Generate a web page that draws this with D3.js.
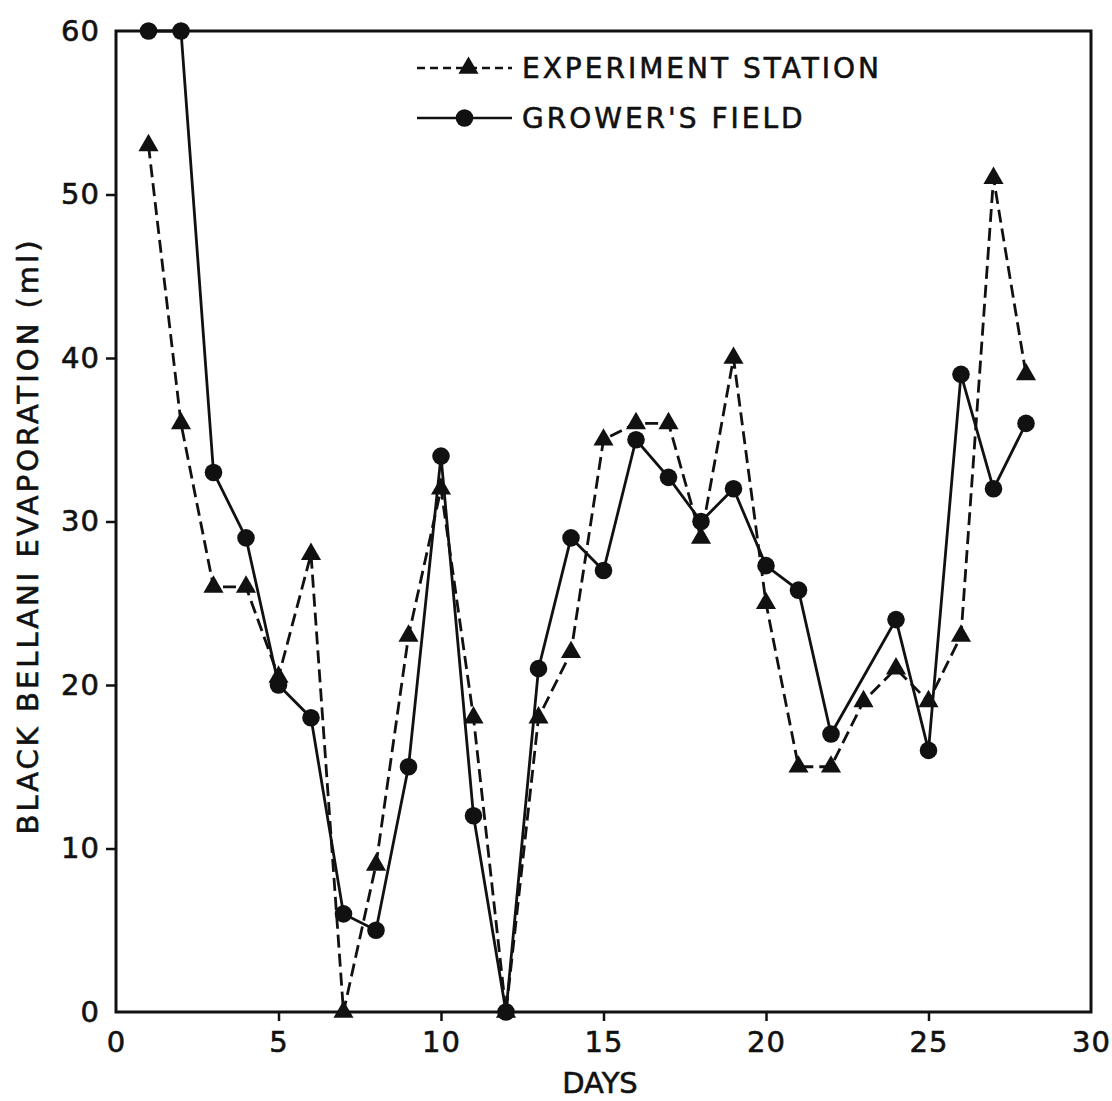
<!DOCTYPE html>
<html>
<head>
<meta charset="utf-8">
<script src="https://cdn.jsdelivr.net/npm/d3@7"></script>
<style>
  body { margin: 0; background: #fff; }
  text { font-family: "DejaVu Sans", sans-serif; fill: #111; stroke: #111; stroke-width: 0.6px; }
</style>
</head>
<body>
<div id="chart"></div>
<script>
// values
let days = [1, 2, 3, 4, 5, 6, 7, 8, 9, 10, 11, 12, 13, 14, 15, 16, 17, 18, 19, 20, 21, 22, 23, 24, 25, 26, 27, 28];
let stationVals = [53, 36, 26, 26, 20.5, 28, 0, 9, 23, 32, 18, 0, 18, 22, 35, 36, 36, 29, 40, 25, 15, 15, 19, 21, 19, 23, 51, 39];
// grower's field has no reading on day 23
let growerVals = [60, 60, 33, 29, 20, 18, 6, 5, 15, 34, 12, 0, 21, 29, 27, 35, 32.7, 30, 32, 27.3, 25.8, 17, null, 24, 16, 39, 32, 36];
let xTicks = [0, 5, 10, 15, 20, 25, 30];
let yTicks = [0, 10, 20, 30, 40, 50, 60];
let seriesNames = ["EXPERIMENT STATION", "GROWER'S FIELD"];

let width = 1112, height = 1101;
let margin = {top: 31, right: 21, bottom: 89, left: 116};
let plotW = width - margin.left - margin.right,
    plotH = height - margin.top - margin.bottom;

let svg = d3.select("#chart")
    .append("svg")
    .attr("width", width)
    .attr("height", height)
    .append("g")
    .attr("transform", `translate(${margin.left},${margin.top})`);

let x = d3.scaleLinear().domain([0, 30]).range([0, plotW]);
let y = d3.scaleLinear().domain([0, 60]).range([plotH, 0]);

// frame
svg.append("rect")
    .attr("x", 0).attr("y", 0)
    .attr("width", plotW).attr("height", plotH)
    .attr("fill", "none")
    .attr("stroke", "#111")
    .attr("stroke-width", 3);

let xAxis = svg.append("g")
    .attr("transform", `translate(0,${plotH})`)
    .call(d3.axisBottom(x).tickValues(xTicks).tickSize(9).tickPadding(10));

let yAxis = svg.append("g")
    .call(d3.axisLeft(y).tickValues(yTicks).tickSize(10).tickPadding(6));

[xAxis, yAxis].forEach(function(a) {
    a.select(".domain").remove();
    a.selectAll("line").attr("stroke", "#111").attr("stroke-width", 2.5);
    a.selectAll("text")
        .style("font-size", "29px")
        .style("letter-spacing", "1px")
        .style("font-family", "'DejaVu Sans', sans-serif")
        .attr("fill", "#111");
});
// first and last ticks sit on the frame corners
xAxis.selectAll(".tick line").filter(function(d) { return d === 0 || d === 30; }).remove();
yAxis.selectAll(".tick line").filter(function(d) { return d === 0 || d === 60; }).remove();

let station = days.map(function(d, i) { return {day: d, v: stationVals[i]}; });
let grower = days.map(function(d, i) { return {day: d, v: growerVals[i]}; })
    .filter(function(d) { return d.v !== null; });

let line = d3.line()
    .x(function(d) { return x(d.day); })
    .y(function(d) { return y(d.v); });

svg.append("path")
    .datum(station)
    .attr("d", line)
    .attr("fill", "none")
    .attr("stroke", "#111")
    .attr("stroke-width", 2.8)
    .attr("stroke-dasharray", "13,6");

svg.append("path")
    .datum(grower)
    .attr("d", line)
    .attr("fill", "none")
    .attr("stroke", "#111")
    .attr("stroke-width", 2.8);

let tri = d3.symbol().type(d3.symbolTriangle).size(175);

svg.selectAll(".tri").data(station).enter()
    .append("path")
    .attr("class", "tri")
    .attr("d", tri)
    .attr("transform", function(d) { return `translate(${x(d.day)},${y(d.v)})`; })
    .attr("fill", "#111");

svg.selectAll(".dot").data(grower).enter()
    .append("circle")
    .attr("class", "dot")
    .attr("cx", function(d) { return x(d.day); })
    .attr("cy", function(d) { return y(d.v); })
    .attr("r", 8.8)
    .attr("fill", "#111");

// legend
let legend = svg.append("g");
let lx1 = 417 - margin.left, lx2 = 512 - margin.left, ltx = 522 - margin.left;
let rows = [37, 87];

legend.append("line")
    .attr("x1", lx1).attr("x2", lx2)
    .attr("y1", rows[0]).attr("y2", rows[0])
    .attr("stroke", "#111").attr("stroke-width", 2.5)
    .attr("stroke-dasharray", "8,5");
legend.append("path")
    .attr("d", tri)
    .attr("transform", `translate(${(lx1 + lx2) / 2 + 4},${rows[0]})`)
    .attr("fill", "#111");
legend.append("line")
    .attr("x1", lx1).attr("x2", lx2)
    .attr("y1", rows[1]).attr("y2", rows[1])
    .attr("stroke", "#111").attr("stroke-width", 2.5);
legend.append("circle")
    .attr("cx", (lx1 + lx2) / 2)
    .attr("cy", rows[1])
    .attr("r", 8.8)
    .attr("fill", "#111");

legend.selectAll(".ltext").data(seriesNames).enter()
    .append("text")
    .attr("class", "ltext")
    .attr("x", ltx)
    .attr("y", function(d, i) { return rows[i] + 10; })
    .style("font-size", "28px")
    .style("letter-spacing", "3px")
    .text(function(d) { return d; });

// axis labels
svg.append("text")
    .attr("transform", `translate(${600 - margin.left},${1093 - margin.top})`)
    .style("text-anchor", "middle")
    .style("font-size", "29px")
    .text("DAYS");

svg.append("text")
    .attr("transform", `translate(${38 - margin.left},${536 - margin.top}) rotate(-90)`)
    .style("text-anchor", "middle")
    .style("font-size", "29px")
    .style("letter-spacing", "3px")
    .text("BLACK BELLANI EVAPORATION (ml)");
</script>
</body>
</html>
